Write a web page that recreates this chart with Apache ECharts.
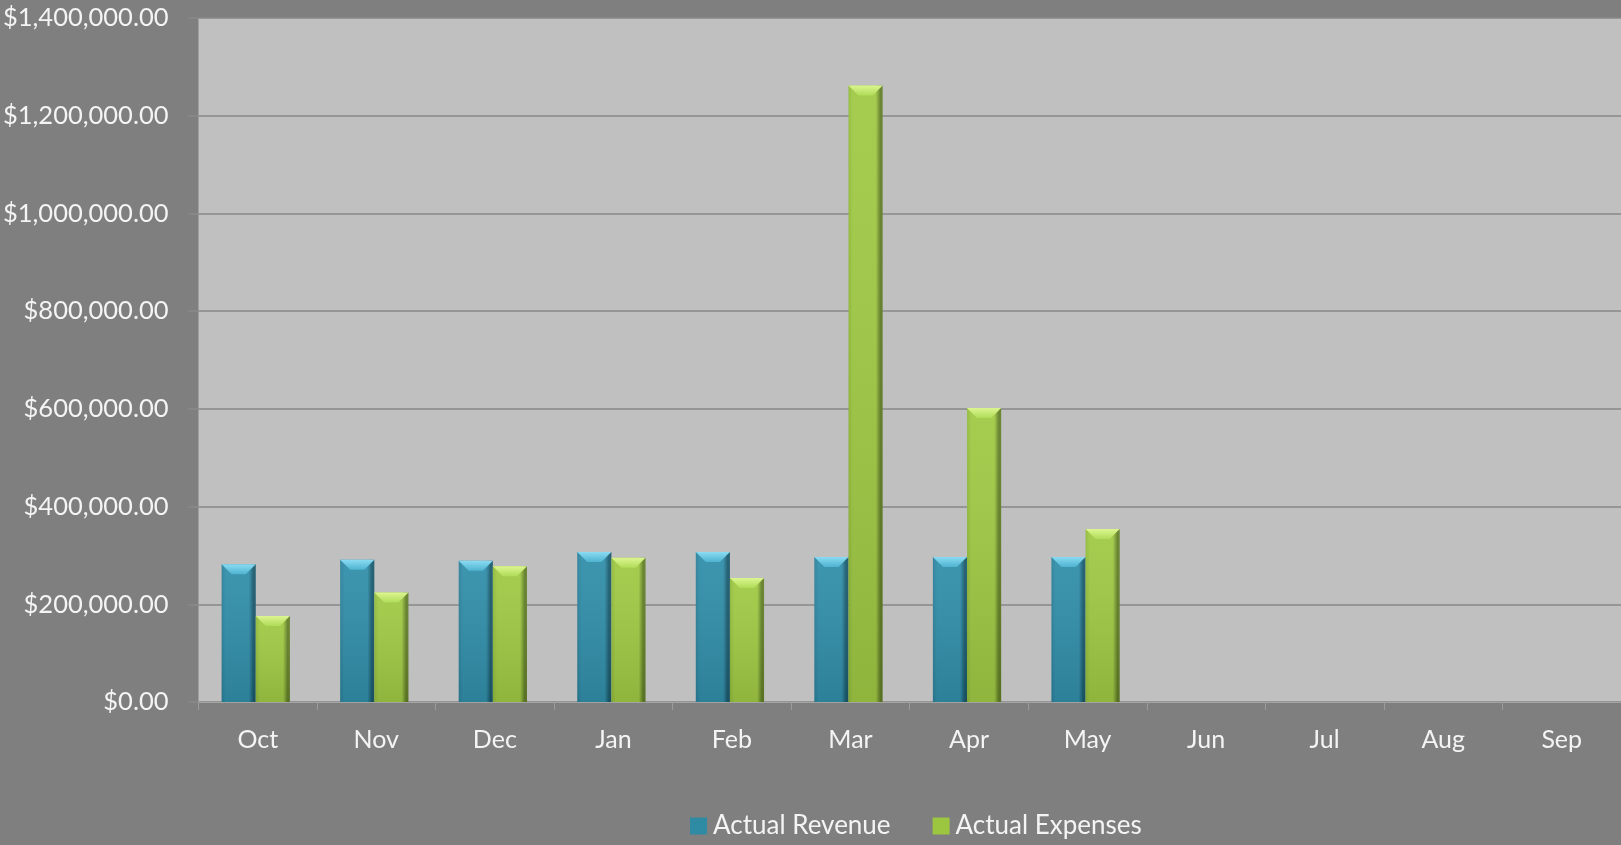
<!DOCTYPE html>
<html>
<head>
<meta charset="utf-8">
<title>Actual Revenue vs Actual Expenses</title>
<script src="https://cdn.jsdelivr.net/npm/echarts@6/dist/echarts.min.js"></script>
<style>
  html, body { margin: 0; padding: 0; background: #7f7f7f; }
  #chart { width: 1621px; height: 845px; }
</style>
</head>
<body>
<div id="chart"></div>
<script>
// Monthly figures (fiscal year Oct - Sep); months without data yet are left empty
const months = ['Oct', 'Nov', 'Dec', 'Jan', 'Feb', 'Mar', 'Apr', 'May', 'Jun', 'Jul', 'Aug', 'Sep'];
const actualRevenue = [282000, 291000, 289000, 307000, 307000, 297000, 297000, 297000];
const actualExpenses = [176000, 224000, 278000, 295000, 254000, 1262000, 602000, 354000];
const yTicks = { min: 0, max: 1400000, interval: 200000 };

const FONT = 'Lato';
const BAR_FRAC = 0.288;   // bar width as a share of one category band

const palettes = {
  revenue: {
    legend: '#2f8aa4',
    left: '#2b7f99', mid: '#318ea9', right: '#1b5a6d',
    bevelTop: '#8adcf2', bevelBottom: '#4fb3d0'
  },
  expenses: {
    legend: '#9cc640',
    left: '#8fb93a', mid: '#a0c944', right: '#627f27',
    bevelTop: '#dcf590', bevelBottom: '#b0dc58'
  }
};

function toPairs(values) {
  return values.map((v, i) => [i, v]);
}

// Bevelled column: body with side shading plus a lighter top facet
function bevelBar(pal, slot) {
  return function (params, api) {
    const cat = api.value(0);
    const val = api.value(1);
    const top = api.coord([cat, val]);
    const base = api.coord([cat, 0]);
    const band = api.size([1, 0])[0];
    const w = band * BAR_FRAC;
    const x0 = top[0] - w - 2 + slot * w;
    const yTop = top[1];
    const h = base[1] - yTop;
    const d = Math.min(10, w / 3, h / 2);
    const G = echarts.graphic.LinearGradient;
    return {
      type: 'group',
      children: [
        {
          type: 'rect',
          shape: { x: x0, y: yTop, width: w, height: h },
          style: {
            fill: new G(0, 0, 1, 0, [
              { offset: 0, color: pal.left },
              { offset: 0.12, color: pal.mid },
              { offset: 0.8, color: pal.mid },
              { offset: 0.93, color: pal.right },
              { offset: 1, color: pal.right }
            ])
          }
        },
        {
          type: 'rect',
          shape: { x: x0, y: yTop, width: w, height: h },
          style: {
            fill: new G(0, 0, 0, 1, [
              { offset: 0, color: 'rgba(255,255,255,0.06)' },
              { offset: 1, color: 'rgba(0,0,0,0.10)' }
            ])
          }
        },
        {
          type: 'polygon',
          shape: {
            points: [[x0, yTop], [x0 + w, yTop], [x0 + w - d, yTop + d], [x0 + d, yTop + d]]
          },
          style: {
            fill: new G(0, 0, 0, 1, [
              { offset: 0, color: pal.bevelTop },
              { offset: 1, color: pal.bevelBottom }
            ])
          }
        }
      ]
    };
  };
}

const chart = echarts.init(document.getElementById('chart'));

chart.setOption({
  backgroundColor: '#7f7f7f',
  animation: false,
  textStyle: { fontFamily: FONT },
  grid: {
    left: 197, right: 0, top: 18, bottom: 143,
    show: true, backgroundColor: '#c0c0c0', borderWidth: 0
  },
  legend: {
    left: 685, top: 808,
    itemWidth: 17, itemHeight: 17, itemGap: 42,
    icon: 'rect',
    textStyle: { color: '#f4f4f4', fontSize: 26, fontFamily: FONT, padding: [0, 0, 0, 1] },
    data: ['Actual Revenue', 'Actual Expenses']
  },
  xAxis: {
    type: 'category',
    data: months,
    axisLine: { show: true, lineStyle: { color: '#a3a3a3', width: 1 } },
    axisTick: { show: true, length: 8, lineStyle: { color: '#9c9c9c' } },
    axisLabel: { color: '#f4f4f4', fontSize: 25, fontFamily: FONT, margin: 25 },
    splitLine: { show: false }
  },
  yAxis: {
    type: 'value',
    min: yTicks.min, max: yTicks.max, interval: yTicks.interval,
    axisLine: { show: false },
    axisTick: { show: true, length: 10, lineStyle: { color: '#8a8a8a', width: 1.5 } },
    axisLabel: {
      color: '#f4f4f4', fontSize: 25.5, fontFamily: FONT, margin: 30,
      formatter: v => '$' + v.toLocaleString('en-US', { minimumFractionDigits: 2, maximumFractionDigits: 2 })
    },
    splitLine: { show: true, lineStyle: { color: '#898989', width: 1.5 } }
  },
  series: [
    {
      name: 'Actual Revenue',
      type: 'custom',
      renderItem: bevelBar(palettes.revenue, 0),
      encode: { x: 0, y: 1 },
      itemStyle: { color: palettes.revenue.legend },
      data: toPairs(actualRevenue),
      z: 3
    },
    {
      name: 'Actual Expenses',
      type: 'custom',
      renderItem: bevelBar(palettes.expenses, 1),
      encode: { x: 0, y: 1 },
      itemStyle: { color: palettes.expenses.legend },
      data: toPairs(actualExpenses),
      z: 3
    }
  ]
});
</script>
</body>
</html>
